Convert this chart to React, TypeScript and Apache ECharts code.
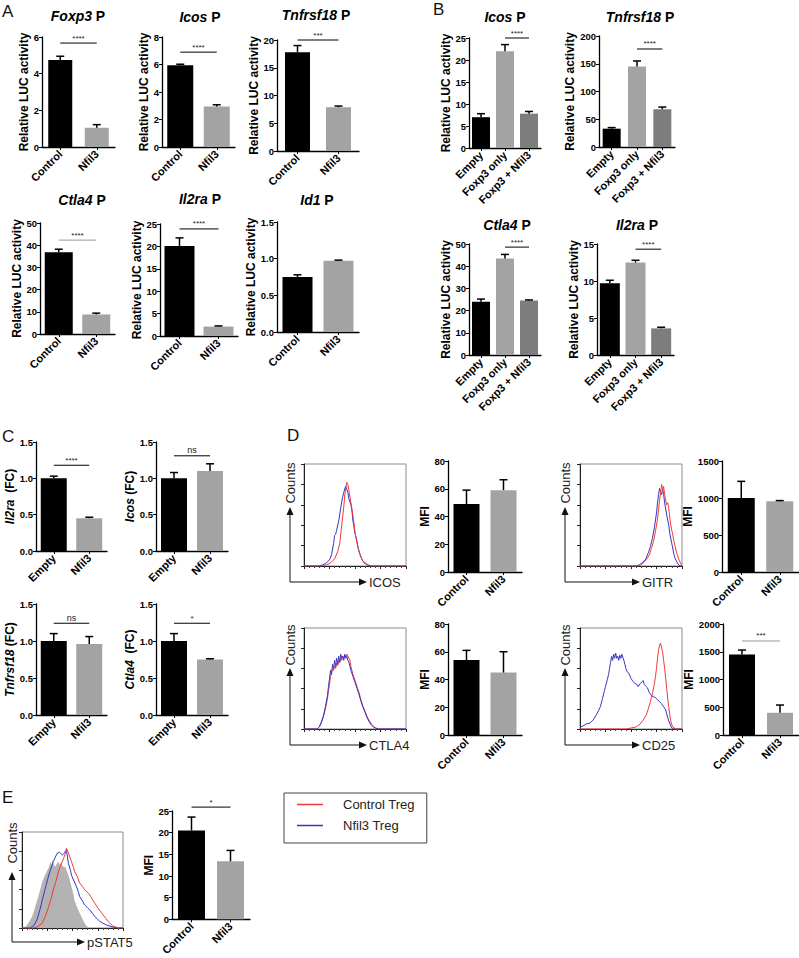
import React, { useEffect, useRef } from "react";
import * as echarts from "echarts";

const FONT = '"Liberation Sans", Arial, Helvetica, sans-serif';

// ---------- categories ----------
const catsA = ["Control", "Nfil3"];
const catsB = ["Empty", "Foxp3 only", "Foxp3 + Nfil3"];
const catsC = ["Empty", "Nfil3"];
const catsD = ["Control", "Nfil3"];

// ---------- A: relative LUC activity (mean, mean+SEM) ----------
const foxp3Luc = [4.75, 1.05];
const foxp3LucErr = [4.95, 1.22];
const icosLuc = [5.95, 2.95];
const icosLucErr = [6.02, 3.07];
const tnfrsf18Luc = [17.8, 7.9];
const tnfrsf18LucErr = [19.0, 8.1];
const ctla4Luc = [36.8, 8.8];
const ctla4LucErr = [38.2, 9.4];
const il2raLuc = [20.1, 2.1];
const il2raLucErr = [21.9, 2.25];
const id1Luc = [0.75, 0.97];
const id1LucErr = [0.78, 0.98];

// ---------- B ----------
const icosLucB = [7.0, 22.0, 7.8];
const icosLucBErr = [7.8, 23.5, 8.3];
const tnfrsf18LucB = [33, 145, 68];
const tnfrsf18LucBErr = [35, 155, 72];
const ctla4LucB = [24, 43.5, 24.5];
const ctla4LucBErr = [25.2, 45.3, 24.8];
const il2raLucB = [9.7, 12.5, 3.6];
const il2raLucBErr = [10.1, 12.8, 3.75];

// ---------- C: fold change ----------
const il2raFC = [1.0, 0.45];
const il2raFCErr = [1.03, 0.465];
const icosFC = [1.0, 1.1];
const icosFCErr = [1.08, 1.2];
const tnfrsf18FC = [1.0, 0.96];
const tnfrsf18FCErr = [1.1, 1.06];
const ctla4FC = [1.0, 0.75];
const ctla4FCErr = [1.1, 0.76];

// ---------- D / E: MFI ----------
const icosMfi = [49, 59];
const icosMfiErr = [59, 66.5];
const gitrMfi = [1000, 955];
const gitrMfiErr = [1225, 965];
const ctla4Mfi = [54, 45];
const ctla4MfiErr = [61, 60];
const cd25Mfi = [1450, 400];
const cd25MfiErr = [1530, 540];
const pstat5Mfi = [20.5, 13.4];
const pstat5MfiErr = [23.6, 15.9];

// ---------- histograms: [channel position %, count %] ----------
const icosControl = [[0,0],[16,0],[22,1],[26,3],[30,7],[33,14],[35,22],[37,40],[39,58],[40,70],[41,77],[42,82],[43,80],[44,74],[46,62],[47,56],[49,42],[50,33],[52,22],[54,14],[55,11],[57,6],[60,3],[63,1],[67,0],[100,0]];
const icosNfil3 = [[0,0],[14,0],[18,1],[22,3],[25,6],[27,11],[29,22],[30,30],[31,31],[32,35],[34,44],[35,50],[36,57],[37,63],[38,68],[39,72],[40,76],[41,78],[42,75],[43,72],[44,66],[46,60],[47,54],[48,44],[50,32],[52,24],[53,18],[55,11],[57,6],[59,3],[62,1],[66,0],[100,0]];
const gitrControl = [[0,0],[56,0],[59,1],[62,3],[65,6],[68,11],[70,17],[72,24],[74,34],[76,46],[77,55],[78,64],[79,72],[80,80],[81,74],[82,78],[83,70],[84,64],[85,60],[86,62],[87,57],[88,48],[89,40],[91,30],[93,20],[95,12],[97,6],[99,2],[100,0]];
const gitrNfil3 = [[0,0],[55,0],[58,1],[61,3],[64,6],[67,13],[69,19],[71,27],[73,38],[75,52],[76,62],[77,70],[78,76],[79,72],[80,70],[81,75],[82,70],[83,62],[85,50],[87,40],[88,32],[90,22],[92,12],[93,8],[95,4],[96,2],[98,0],[100,0]];
const ctla4Control = [[0,0],[13,0],[15,2],[17,6],[19,12],[21,20],[23,30],[24,38],[25,44],[26,52],[27,56],[28,60],[29,58],[30,62],[31,60],[32,65],[33,63],[34,67],[35,66],[36,70],[37,68],[38,72],[39,71],[40,73],[41,72],[42,74],[43,72],[44,70],[45,68],[46,62],[47,58],[48,54],[50,48],[52,42],[54,36],[56,28],[58,22],[60,17],[62,12],[64,8],[66,5],[68,3],[70,1],[73,0],[100,0]];
const ctla4Nfil3 = [[0,0],[13,0],[15,2],[17,7],[19,13],[21,22],[23,33],[24,42],[25,50],[26,58],[27,54],[28,64],[29,60],[30,68],[31,62],[32,70],[33,64],[34,72],[35,66],[36,74],[37,70],[38,72],[39,68],[40,74],[41,70],[42,72],[43,68],[44,66],[45,62],[46,58],[47,55],[48,52],[50,46],[52,40],[54,34],[56,27],[58,21],[60,16],[62,11],[64,7],[66,4],[68,2],[70,1],[73,0],[100,0]];
const cd25Control = [[0,0],[45,0],[50,1],[55,2],[59,5],[62,9],[65,14],[67,20],[69,27],[71,35],[73,45],[74,52],[75,60],[76,70],[77,78],[78,83],[79,85],[80,80],[81,76],[82,68],[83,60],[84,50],[85,40],[86,30],[87,22],[88,14],[89,8],[90,4],[92,1],[94,0],[100,0]];
const cd25Nfil3 = [[0,2],[3,3],[6,5],[10,6],[13,9],[16,14],[18,18],[20,22],[22,30],[24,38],[25,42],[27,50],[28,54],[29,60],[30,66],[31,72],[32,68],[33,74],[34,70],[35,75],[36,70],[37,72],[38,68],[39,73],[40,70],[41,74],[42,71],[43,68],[44,64],[45,60],[46,57],[48,55],[50,50],[52,47],[54,45],[56,44],[57,42],[59,45],[61,47],[62,48],[63,44],[65,42],[66,41],[68,36],[70,33],[72,32],[74,31],[76,29],[78,27],[80,25],[82,22],[84,19],[85,15],[87,8],[89,3],[90,1],[92,0],[100,0]];
const pstat5Isotype = [[0,0],[2,0],[5,3],[8,8],[10,12],[12,18],[15,29],[17,36],[20,48],[22,53],[25,60],[27,64],[28,69],[29,66],[30,71],[31,67],[32,65],[33,64],[34,66],[35,68],[36,69],[37,66],[38,68],[39,67],[40,65],[42,63],[43,64],[44,60],[46,55],[48,47],[49,43],[51,35],[52,29],[54,23],[57,16],[60,9],[62,5],[64,2],[66,0],[100,0]];
const pstat5Nfil3 = [[0,0],[8,0],[12,3],[15,9],[18,20],[21,33],[24,45],[26,53],[28,60],[31,69],[33,74],[35,78],[37,79],[38,78],[40,76],[41,77],[42,78],[43,80],[44,81],[45,74],[46,67],[48,60],[49,55],[51,50],[54,43],[56,37],[57,33],[60,28],[62,24],[65,21],[67,19],[70,15],[72,12],[75,9],[77,7],[80,5],[84,3],[90,1],[95,0],[100,0]];
const pstat5Control = [[0,0],[11,0],[15,1],[20,5],[23,12],[26,21],[29,31],[31,40],[34,50],[36,59],[39,67],[41,72],[43,78],[44,83],[45,81],[46,78],[48,72],[49,69],[51,63],[52,59],[55,53],[57,47],[60,43],[62,40],[64,38],[66,36],[68,33],[70,29],[72,26],[75,21],[78,17],[80,14],[83,10],[85,7],[88,4],[90,2],[93,1],[95,0],[100,0]];

const legendNames = ["Control Treg", "Nfil3 Treg"];

// ---------- styles ----------
const BLACK = "#000000";
const GRAY = "#a3a3a3";
const DARKGRAY = "#7d7d7d";
const RED = "#ee3a3a";
const BLUE = "#3434c4";
const colors2 = [BLACK, GRAY];
const colors3 = [BLACK, GRAY, DARKGRAY];
const LUC = "Relative LUC activity";

const barPanels: any[] = [
  { cats: catsA, vals: foxp3Luc, errs: foxp3LucErr, colors: colors2, max: 6, interval: 2, dec: 0, left: 42, top: 37, width: 73, height: 110, bw: 24, yName: LUC, gap: 11, title: "{i|Foxp3} P", tx: 78, ty: 16, sig: { y: 5.67, text: "****", color: BLACK } },
  { cats: catsA, vals: icosLuc, errs: icosLucErr, colors: colors2, max: 8, interval: 2, dec: 0, left: 162, top: 37, width: 73, height: 110, bw: 26, yName: LUC, gap: 11, title: "{i|Icos} P", tx: 200, ty: 17, sig: { y: 6.9, text: "****", color: BLACK } },
  { cats: catsA, vals: tnfrsf18Luc, errs: tnfrsf18LucErr, colors: colors2, max: 20, interval: 5, dec: 0, left: 277, top: 40, width: 82, height: 111, bw: 25, yName: LUC, gap: 9, title: "{i|Tnfrsf18} P", tx: 316, ty: 15, sig: { y: 20, text: "***", color: BLACK } },
  { cats: catsA, vals: ctla4Luc, errs: ctla4LucErr, colors: colors2, max: 50, interval: 10, dec: 0, left: 40, top: 223, width: 75, height: 111, bw: 28, yName: LUC, gap: 11, title: "{i|Ctla4} P", tx: 82, ty: 200, sig: { y: 42.3, text: "****", color: "#999" } },
  { cats: catsA, vals: il2raLuc, errs: il2raLucErr, colors: colors2, max: 25, interval: 5, dec: 0, left: 160, top: 224, width: 78, height: 112, bw: 30, yName: LUC, gap: 11, title: "{i|Il2ra} P", tx: 200, ty: 199, sig: { y: 23.9, text: "****", color: BLACK } },
  { cats: catsA, vals: id1Luc, errs: id1LucErr, colors: colors2, max: 1.5, interval: 0.5, dec: 1, left: 277, top: 222, width: 82, height: 110, bw: 30, yName: LUC, gap: 9, title: "{i|Id1} P", tx: 317, ty: 200 },
  { cats: catsB, vals: icosLucB, errs: icosLucBErr, colors: colors3, max: 25, interval: 5, dec: 0, left: 469, top: 38, width: 72, height: 110, bw: 18, yName: LUC, gap: 15, title: "{i|Icos} P", tx: 505, ty: 17, sig: { from: 1, to: 2, y: 25, text: "****", color: BLACK } },
  { cats: catsB, vals: tnfrsf18LucB, errs: tnfrsf18LucBErr, colors: colors3, max: 200, interval: 50, dec: 0, left: 599, top: 36, width: 76, height: 111, bw: 18, yName: LUC, gap: 19, title: "{i|Tnfrsf18} P", tx: 640, ty: 17, sig: { from: 1, to: 2, y: 176.6, text: "****", color: BLACK } },
  { cats: catsB, vals: ctla4LucB, errs: ctla4LucBErr, colors: colors3, max: 50, interval: 10, dec: 0, left: 469, top: 244, width: 72, height: 111, bw: 18, yName: LUC, gap: 15, title: "{i|Ctla4} P", tx: 507, ty: 225, sig: { from: 1, to: 2, y: 48.6, text: "****", color: BLACK } },
  { cats: catsB, vals: il2raLucB, errs: il2raLucBErr, colors: colors3, max: 15, interval: 5, dec: 0, left: 597, top: 244, width: 77, height: 111, bw: 20, yName: LUC, gap: 13, title: "{i|Il2ra} P", tx: 637, ty: 225, sig: { from: 1, to: 2, y: 14.3, text: "****", color: BLACK } },
  { cats: catsC, vals: il2raFC, errs: il2raFCErr, colors: colors2, max: 1.5, interval: 0.5, dec: 1, left: 36, top: 442, width: 71, height: 109, bw: 26, yName: "{i|Il2ra}  (FC)", gap: 11, sig: { y: 1.18, text: "****", color: BLACK } },
  { cats: catsC, vals: icosFC, errs: icosFCErr, colors: colors2, max: 1.5, interval: 0.5, dec: 1, left: 156, top: 442, width: 72, height: 109, bw: 26, yName: "{i|Icos} (FC)", gap: 11, sig: { y: 1.31, text: "ns", color: BLACK } },
  { cats: catsC, vals: tnfrsf18FC, errs: tnfrsf18FCErr, colors: colors2, max: 1.5, interval: 0.5, dec: 1, left: 36, top: 604, width: 71, height: 111, bw: 26, yName: "{i|Tnfrsf18} (FC)", gap: 11, sig: { y: 1.24, text: "ns", color: BLACK } },
  { cats: catsC, vals: ctla4FC, errs: ctla4FCErr, colors: colors2, max: 1.5, interval: 0.5, dec: 1, left: 156, top: 604, width: 72, height: 111, bw: 26, yName: "{i|Ctla4}  (FC)", gap: 11, sig: { y: 1.24, text: "*", color: BLACK } },
  { cats: catsD, vals: icosMfi, errs: icosMfiErr, colors: colors2, max: 80, interval: 20, dec: 0, left: 448, top: 461, width: 74, height: 111, bw: 26, yName: "MFI", gap: 17 },
  { cats: catsD, vals: gitrMfi, errs: gitrMfiErr, colors: colors2, max: 1500, interval: 500, dec: 0, left: 722, top: 461, width: 77, height: 111, bw: 27, yName: "MFI", gap: 23 },
  { cats: catsD, vals: ctla4Mfi, errs: ctla4MfiErr, colors: colors2, max: 80, interval: 20, dec: 0, left: 448, top: 624, width: 74, height: 111, bw: 26, yName: "MFI", gap: 17 },
  { cats: catsD, vals: cd25Mfi, errs: cd25MfiErr, colors: colors2, max: 2000, interval: 500, dec: 0, left: 723, top: 624, width: 76, height: 111, bw: 26, yName: "MFI", gap: 23, sig: { y: 1694, text: "***", color: "#999" } },
  { cats: catsD, vals: pstat5Mfi, errs: pstat5MfiErr, colors: colors2, max: 25, interval: 5, dec: 0, left: 172, top: 811, width: 78, height: 111, bw: 27, yName: "MFI", gap: 13, sig: { y: 25.9, text: "*", color: BLACK } },
];

const histPanels: any[] = [
  { left: 304, top: 464, width: 102, height: 102, curves: [[legendNames[1], icosNfil3, BLUE], [legendNames[0], icosControl, RED]], label: "ICOS", vx: 290, vTop: 507, bottom: 582, hRight: 367, countsY: 483 },
  { left: 580, top: 464, width: 102, height: 102, curves: [[legendNames[1], gitrNfil3, BLUE], [legendNames[0], gitrControl, RED]], label: "GITR", vx: 565, vTop: 507, bottom: 582, hRight: 640, countsY: 483 },
  { left: 304, top: 628, width: 102, height: 101, curves: [[legendNames[0], ctla4Control, RED], [legendNames[1], ctla4Nfil3, BLUE]], label: "CTLA4", vx: 290, vTop: 668, bottom: 745, hRight: 367, countsY: 645 },
  { left: 580, top: 628, width: 102, height: 101, curves: [[legendNames[1], cd25Nfil3, BLUE], [legendNames[0], cd25Control, RED]], label: "CD25", vx: 565, vTop: 668, bottom: 745, hRight: 640, countsY: 645 },
  { left: 22, top: 832, width: 101, height: 96, fill: pstat5Isotype, curves: [[legendNames[1], pstat5Nfil3, BLUE], [legendNames[0], pstat5Control, RED]], label: "pSTAT5", vx: 12, vTop: 872, bottom: 942, hRight: 85, countsY: 843 },
];

const errorRender = (cap: number) => (params: any, api: any) => {
  const x = api.value(0);
  const p0 = api.coord([x, api.value(1)]);
  const p1 = api.coord([x, api.value(2)]);
  return {
    type: "group",
    children: [
      { type: "line", shape: { x1: p0[0], y1: p0[1], x2: p1[0], y2: p1[1] }, style: { stroke: BLACK, lineWidth: 1.5 } },
      { type: "line", shape: { x1: p1[0] - cap, y1: p1[1], x2: p1[0] + cap, y2: p1[1] }, style: { stroke: BLACK, lineWidth: 1.5 } },
    ],
  };
};

const sigRender = (text: string, color: string) => (params: any, api: any) => {
  const a = api.coord([api.value(0), api.value(2)]);
  const b = api.coord([api.value(1), api.value(2)]);
  const isNs = text === "ns";
  return {
    type: "group",
    children: [
      { type: "line", shape: { x1: a[0], y1: a[1], x2: b[0], y2: b[1] }, style: { stroke: color, lineWidth: 1 } },
      { type: "text", x: (a[0] + b[0]) / 2, y: a[1] - 1, style: { text, fill: "#222", fontSize: isNs ? 9 : 8, fontFamily: FONT, align: "center", verticalAlign: "bottom" } },
    ],
  };
};

function buildOption() {
  const grid: any[] = [];
  const xAxis: any[] = [];
  const yAxis: any[] = [];
  const series: any[] = [];
  const graphic: any[] = [];
  const axisLine = { show: true, lineStyle: { color: BLACK, width: 1.3 } };

  barPanels.forEach((p, i) => {
    grid.push({ left: p.left, top: p.top, width: p.width, height: p.height });
    xAxis.push({
      gridIndex: i, type: "category", data: p.cats, axisLine,
      axisTick: { show: true, alignWithLabel: true, length: 3, lineStyle: { color: BLACK } },
      axisLabel: { rotate: 45, interval: 0, fontSize: 11, fontWeight: "bold", color: BLACK, fontFamily: FONT, margin: 5 },
    });
    yAxis.push({
      gridIndex: i, type: "value", min: 0, max: p.max, interval: p.interval, axisLine,
      axisTick: { show: true, length: 3, lineStyle: { color: BLACK } },
      splitLine: { show: false },
      axisLabel: { fontSize: 9.5, fontWeight: "bold", color: BLACK, fontFamily: FONT, margin: 3, formatter: (v: number) => v.toFixed(p.dec) },
      name: p.yName, nameLocation: "middle", nameGap: p.gap,
      nameTextStyle: {
        fontSize: 12, fontWeight: "bold", color: BLACK, fontFamily: FONT,
        rich: { i: { fontSize: 12, fontWeight: "bold", fontStyle: "italic", color: BLACK, fontFamily: FONT } },
      },
    });
    series.push({
      type: "bar", xAxisIndex: i, yAxisIndex: i, barWidth: p.bw, silent: true,
      data: p.vals.map((v: number, k: number) => ({ value: v, itemStyle: { color: p.colors[k] } })),
    });
    series.push({
      type: "custom", xAxisIndex: i, yAxisIndex: i, silent: true, z: 3,
      renderItem: errorRender(4),
      data: p.vals.map((v: number, k: number) => [k, v, p.errs[k]]),
    });
    if (p.sig) {
      series.push({
        type: "custom", xAxisIndex: i, yAxisIndex: i, silent: true, z: 3, clip: false,
        renderItem: sigRender(p.sig.text, p.sig.color),
        data: [[p.sig.from ?? 0, p.sig.to ?? 1, p.sig.y]],
      });
    }
    if (p.title) {
      graphic.push({
        type: "text", x: p.tx, y: p.ty,
        style: {
          text: p.title, fontSize: 14, fontWeight: "bold", fontFamily: FONT, fill: BLACK, align: "center", verticalAlign: "middle",
          rich: { i: { fontSize: 14, fontWeight: "bold", fontStyle: "italic", fontFamily: FONT, fill: BLACK } },
        },
      });
    }
  });

  const n0 = barPanels.length;
  histPanels.forEach((h, j) => {
    const i = n0 + j;
    grid.push({ left: h.left, top: h.top, width: h.width, height: h.height, show: true, borderColor: "#8c8c8c", borderWidth: 1 });
    xAxis.push({
      gridIndex: i, type: "value", min: 0, max: 100, interval: 25,
      axisLine: { show: true, lineStyle: { color: "#222", width: 1 } },
      axisTick: { show: true, length: 3, lineStyle: { color: "#222" } },
      minorTick: { show: true, splitNumber: 5, length: 2, lineStyle: { color: "#444" } },
      axisLabel: { show: false }, splitLine: { show: false },
    });
    yAxis.push({
      gridIndex: i, type: "value", min: 0, max: 100, interval: 20,
      axisLine: { show: true, lineStyle: { color: "#222", width: 1 } },
      axisTick: { show: true, length: 3, lineStyle: { color: "#222" } },
      axisLabel: { show: false }, splitLine: { show: false },
    });
    if (h.fill) {
      series.push({
        type: "line", name: "Isotype", xAxisIndex: i, yAxisIndex: i, data: h.fill, showSymbol: false, silent: true,
        lineStyle: { width: 0, opacity: 0 }, areaStyle: { color: "#b3b3b3", opacity: 1 }, itemStyle: { color: "#b3b3b3" },
      });
    }
    h.curves.forEach((c: any) => {
      series.push({
        type: "line", name: c[0], xAxisIndex: i, yAxisIndex: i, data: c[1], showSymbol: false, silent: true,
        lineStyle: { width: 1, color: c[2] }, itemStyle: { color: c[2] },
      });
    });
    const { vx, vTop, bottom, hRight } = h;
    graphic.push(
      { type: "line", shape: { x1: vx, y1: bottom, x2: vx, y2: vTop + 6 }, style: { stroke: "#111", lineWidth: 1 } },
      { type: "polygon", shape: { points: [[vx, vTop], [vx - 3.5, vTop + 8], [vx + 3.5, vTop + 8]] }, style: { fill: "#111" } },
      { type: "line", shape: { x1: vx, y1: bottom, x2: hRight - 6, y2: bottom }, style: { stroke: "#111", lineWidth: 1 } },
      { type: "polygon", shape: { points: [[hRight, bottom], [hRight - 8, bottom - 3.5], [hRight - 8, bottom + 3.5]] }, style: { fill: "#111" } },
      { type: "text", x: hRight + 2, y: bottom, style: { text: h.label, fontSize: 13, fontFamily: FONT, fill: "#222", align: "left", verticalAlign: "middle" } },
      { type: "text", x: vx, y: h.countsY, rotation: Math.PI / 2, style: { text: "Counts", fontSize: 13, fontFamily: FONT, fill: "#222", align: "center", verticalAlign: "middle" } },
    );
  });

  const letters: [string, number, number][] = [["A", 2, 3], ["B", 433, 1], ["C", 2, 428], ["D", 287, 427], ["E", 2, 789]];
  letters.forEach(([t, x, y]) => {
    graphic.push({ type: "text", x, y, style: { text: t, fontSize: 17, fontFamily: FONT, fill: "#111", align: "left", verticalAlign: "top" } });
  });

  return {
    animation: false,
    backgroundColor: "#ffffff",
    grid, xAxis, yAxis, series, graphic,
    legend: {
      data: legendNames, left: 284, top: 793, orient: "vertical", icon: "rect",
      itemWidth: 26, itemHeight: 1.5, itemGap: 8, padding: [5, 12, 11, 13],
      borderColor: "#444", borderWidth: 1, selectedMode: false,
      textStyle: { fontSize: 13, color: "#222", fontFamily: FONT, padding: [0, 0, 0, 15] },
    },
  };
}

export default function App() {
  const ref = useRef<HTMLDivElement>(null);
  useEffect(() => {
    if (!ref.current) return;
    const chart = echarts.init(ref.current, undefined, { renderer: "svg" });
    chart.setOption(buildOption() as any);
    return () => chart.dispose();
  }, []);
  return <div ref={ref} style={{ position: "absolute", left: 0, top: 0, width: 799, height: 958 }} />;
}
